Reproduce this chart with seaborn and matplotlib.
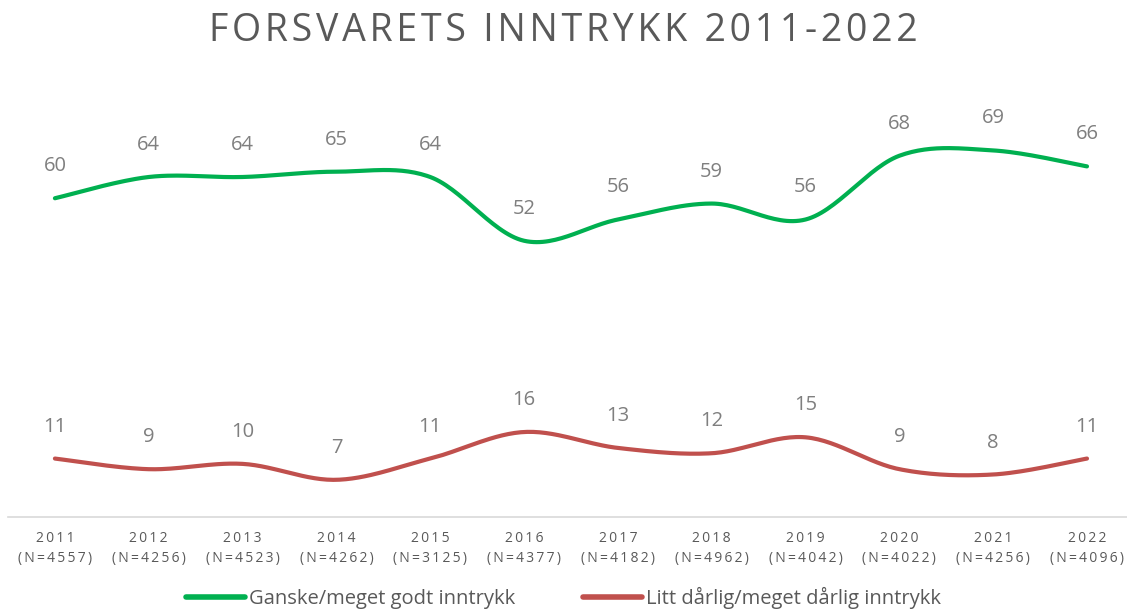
import numpy as np
import pandas as pd
import matplotlib
matplotlib.use("Agg")
import matplotlib.pyplot as plt
import seaborn as sns

years = ["2011", "2012", "2013", "2014", "2015", "2016", "2017", "2018", "2019", "2020", "2021", "2022"]
n_sizes = ["4557", "4256", "4523", "4262", "3125", "4377", "4182", "4962", "4042", "4022", "4256", "4096"]
good = [60, 64, 64, 65, 64, 52, 56, 59, 56, 68, 69, 66]
bad = [11, 9, 10, 7, 11, 16, 13, 12, 15, 9, 8, 11]
series_names = ["Ganske/meget godt inntrykk", "Litt dårlig/meget dårlig inntrykk"]
colors = ["#00b050", "#c0504d"]

sns.set_theme(style="white")
plt.rcParams['font.family'] = ['Open Sans', 'DejaVu Sans']


def smooth(xs, ys, steps=30):
    # catmull-rom style smoothing like excel's "smoothed line"
    xs = np.asarray(xs, float)
    ys = np.asarray(ys, float)
    px = np.concatenate([[xs[0]], xs, [xs[-1]]])
    py = np.concatenate([[ys[0]], ys, [ys[-1]]])
    out_x, out_y = [], []
    t = np.linspace(0, 1, steps, endpoint=False)
    for i in range(1, len(px) - 2):
        for arr, out in ((px, out_x), (py, out_y)):
            p0, p1, p2, p3 = arr[i - 1], arr[i], arr[i + 1], arr[i + 2]
            out.extend(0.5 * ((2 * p1) + (-p0 + p2) * t
                              + (2 * p0 - 5 * p1 + 4 * p2 - p3) * t ** 2
                              + (-p0 + 3 * p1 - 3 * p2 + p3) * t ** 3))
    out_x.append(xs[-1])
    out_y.append(ys[-1])
    return np.array(out_x), np.array(out_y)


fig = plt.figure(figsize=(11.27, 6.1), dpi=100)
ax = fig.add_axes([8 / 1127, 1 - 517 / 610, 1 - 8 / 1127, (517 - 92) / 610])

x = np.arange(len(years))
frames = []
for name, vals in zip(series_names, [good, bad]):
    sx, sy = smooth(x, vals)
    frames.append(pd.DataFrame({"x": sx, "y": sy, "serie": name}))
df = pd.concat(frames, ignore_index=True)

sns.lineplot(data=df, x="x", y="y", hue="serie", palette=colors, linewidth=3,
             ax=ax, sort=False, estimator=None, solid_capstyle="round")

for vals in [good, bad]:
    for xi, v in zip(x, vals):
        ax.annotate(str(v), (xi, v), xytext=(0, 32), textcoords="offset pixels",
                    ha="center", va="center", fontsize=14.5, color="#7f7f7f")

ax.set_xlim(-0.5, (1127 - 55) / ((1087 - 55) / 11))
ax.set_ylim(0, 80)
ax.set_yticks([])
ax.set_xticks(x)
spaced = lambda s: "\u2009".join(s)
ax.set_xticklabels([spaced(y) + "\n" + spaced("(N=" + n + ")") for y, n in zip(years, n_sizes)],
                   fontsize=10, color="#595959", linespacing=1.45)
ax.tick_params(axis="x", length=0, pad=10)
ax.set_xlabel("")
ax.set_ylabel("")
for side in ["top", "right", "left"]:
    ax.spines[side].set_visible(False)
ax.spines["bottom"].set_color("#d9d9d9")
ax.spines["bottom"].set_linewidth(1.2)

ax.get_legend().remove()
handles = [plt.Line2D([0], [0], color=c, lw=4, solid_capstyle="round") for c in colors]
fig.legend(handles, series_names, loc="center", bbox_to_anchor=(0.5, 1 - 598 / 610), ncol=2,
           frameon=False, fontsize=14.5, handlelength=2.9, handletextpad=0.2, columnspacing=3.4,
           labelcolor="#595959")

fig.text(0.5, 1 - 31 / 610, "\u200a".join("FORSVARETS INNTRYKK 2011-2022"), ha="center", va="center",
         fontsize=27, color="#595959")

fig.savefig("out.png", dpi=100)
